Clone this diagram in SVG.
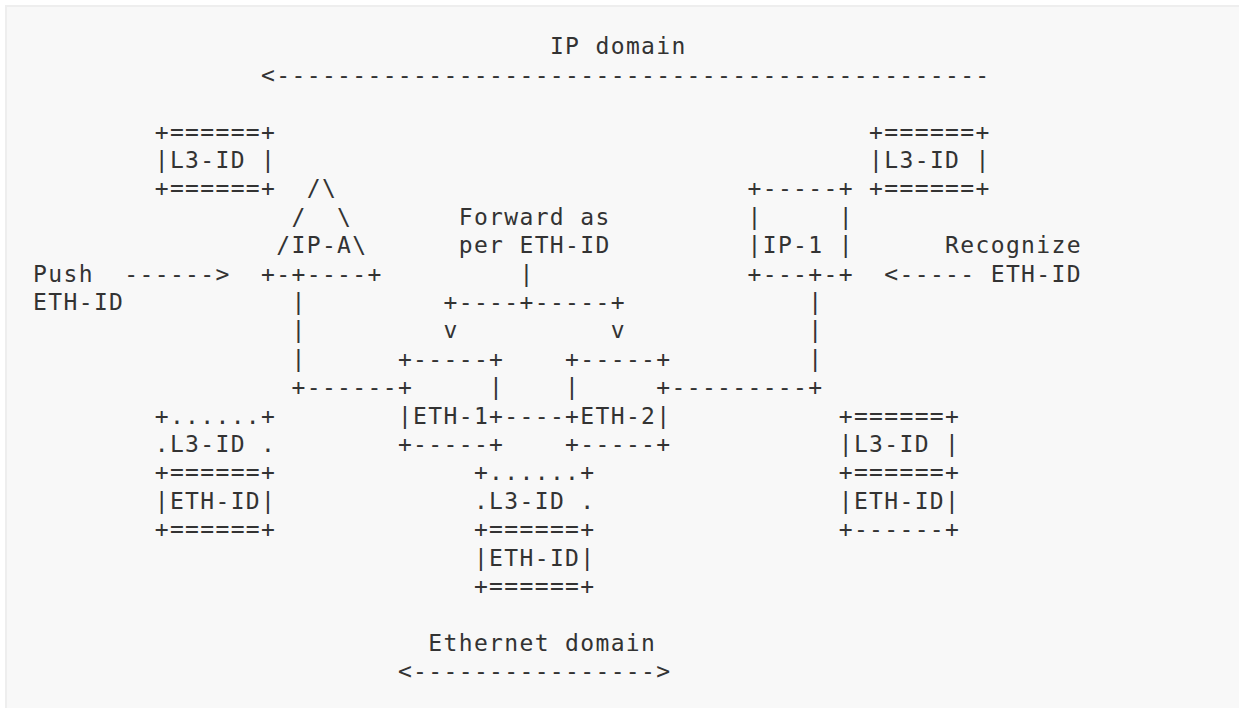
<svg xmlns="http://www.w3.org/2000/svg" width="1239" height="708" viewBox="0 0 1239 708" xml:space="preserve">
<style>
.t{font-family:"DejaVu Sans Mono","Liberation Mono",monospace;font-size:23px;letter-spacing:1.35px;fill:#333333;white-space:pre}
</style>
<rect x="0" y="0" width="1239" height="708" fill="#ffffff"/>
<rect x="6" y="6" width="1240" height="710" fill="#f8f8f8" stroke="#eeeeee" stroke-width="2"/>
<g id="label-ip-domain">
<text class="t" x="549.9" y="54.3">IP domain</text>
</g>
<g id="node-l3-top-left">
<text class="t" x="154.7" y="139.5">+======+</text>
<text class="t" x="154.7" y="167.9">|L3-ID |</text>
<text class="t" x="154.7" y="196.3">+======+</text>
</g>
<g id="node-l3-top-right">
<text class="t" x="869.1" y="139.5">+======+</text>
<text class="t" x="869.1" y="167.9">|L3-ID |</text>
<text class="t" x="869.1" y="196.3">+======+</text>
</g>
<g id="node-ip-a">
<text class="t" x="306.7" y="196.3">/\</text>
<text class="t" x="291.5" y="224.7">/  \</text>
<text class="t" x="276.3" y="253.1">/IP-A\</text>
<text class="t" x="261.1" y="281.5">+-+----+</text>
</g>
<g id="label-forward">
<text class="t" x="458.7" y="224.7">Forward as</text>
<text class="t" x="458.7" y="253.1">per ETH-ID</text>
</g>
<g id="node-ip-1">
<text class="t" x="747.5" y="196.3">+-----+</text>
<text class="t" x="747.5" y="224.7">|     |</text>
<text class="t" x="747.5" y="253.1">|IP-1 |</text>
<text class="t" x="747.5" y="281.5">+---+-+</text>
</g>
<g id="label-recognize">
<text class="t" x="945.1" y="253.1">Recognize</text>
<text class="t" x="990.7" y="281.5">ETH-ID</text>
</g>
<g id="label-push">
<text class="t" x="33.1" y="281.5">Push</text>
<text class="t" x="33.1" y="309.9">ETH-ID</text>
</g>
<g id="node-eth-1">
<text class="t" x="397.9" y="366.7">+-----+</text>
<text class="t" x="489.1" y="395.1">|</text>
<text class="t" x="397.9" y="423.5">|ETH-1+</text>
<text class="t" x="397.9" y="451.9">+-----+</text>
</g>
<g id="node-eth-2">
<text class="t" x="565.1" y="366.7">+-----+</text>
<text class="t" x="565.1" y="395.1">|</text>
<text class="t" x="565.1" y="423.5">+ETH-2|</text>
<text class="t" x="565.1" y="451.9">+-----+</text>
</g>
<g id="node-packet-left">
<text class="t" x="154.7" y="423.5">+......+</text>
<text class="t" x="154.7" y="451.9">.L3-ID .</text>
<text class="t" x="154.7" y="480.3">+======+</text>
<text class="t" x="154.7" y="508.7">|ETH-ID|</text>
<text class="t" x="154.7" y="537.1">+======+</text>
</g>
<g id="node-packet-middle">
<text class="t" x="473.9" y="480.3">+......+</text>
<text class="t" x="473.9" y="508.7">.L3-ID .</text>
<text class="t" x="473.9" y="537.1">+======+</text>
<text class="t" x="473.9" y="565.5">|ETH-ID|</text>
<text class="t" x="473.9" y="593.9">+======+</text>
</g>
<g id="node-packet-right">
<text class="t" x="838.7" y="423.5">+======+</text>
<text class="t" x="838.7" y="451.9">|L3-ID |</text>
<text class="t" x="838.7" y="480.3">+======+</text>
<text class="t" x="838.7" y="508.7">|ETH-ID|</text>
<text class="t" x="838.7" y="537.1">+------+</text>
</g>
<g id="label-ethernet-domain">
<text class="t" x="428.3" y="650.7">Ethernet domain</text>
</g>
<g id="connectors">
<text class="t" x="261.1" y="82.7">&lt;-----------------------------------------------</text>
<text class="t" x="124.3" y="281.5">------&gt;</text>
<text class="t" x="884.3" y="281.5">&lt;-----</text>
<text class="t" x="519.5" y="281.5">|</text>
<text class="t" x="443.5" y="309.9">+----+-----+</text>
<text class="t" x="443.5" y="338.3">v</text>
<text class="t" x="610.7" y="338.3">v</text>
<text class="t" x="291.5" y="309.9">|</text>
<text class="t" x="291.5" y="338.3">|</text>
<text class="t" x="291.5" y="366.7">|</text>
<text class="t" x="291.5" y="395.1">+------+</text>
<text class="t" x="808.3" y="309.9">|</text>
<text class="t" x="808.3" y="338.3">|</text>
<text class="t" x="808.3" y="366.7">|</text>
<text class="t" x="656.3" y="395.1">+---------+</text>
<text class="t" x="504.3" y="423.5">----</text>
<text class="t" x="397.9" y="679.1">&lt;----------------&gt;</text>
</g>
</svg>
